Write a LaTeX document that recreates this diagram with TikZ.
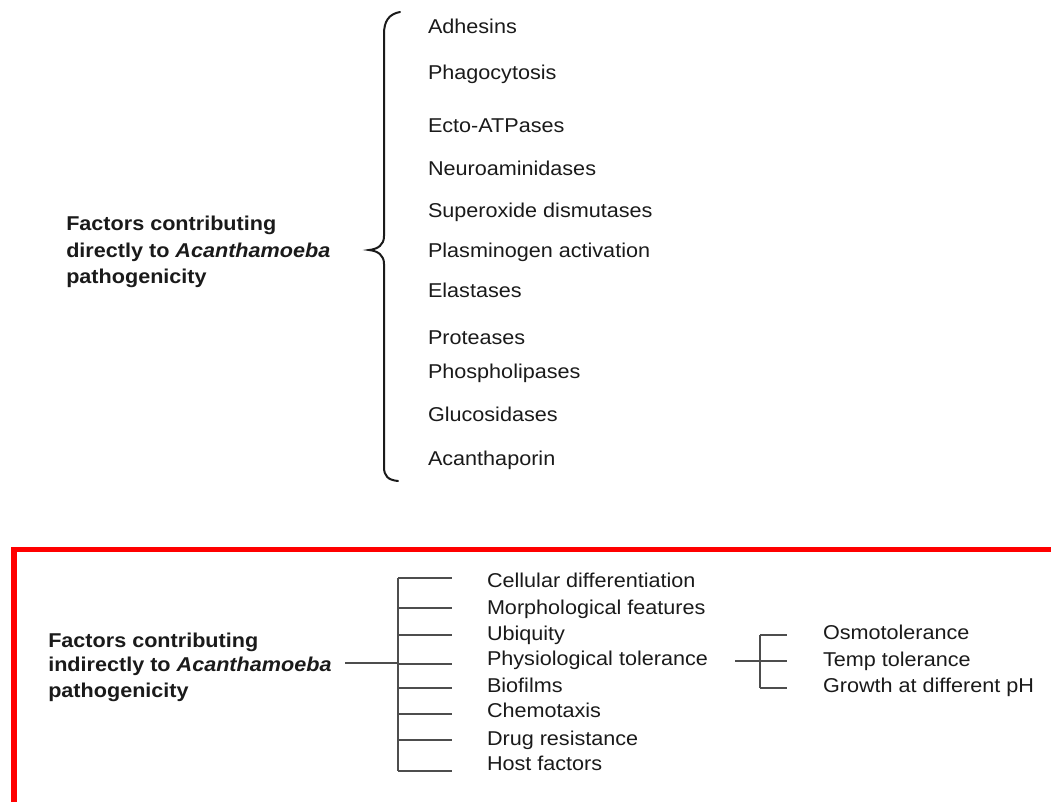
\documentclass[tikz,border=0pt]{standalone}
\usepackage{fontspec}
\setmainfont{Liberation Sans}[FakeStretch=1.08]
\definecolor{txt}{HTML}{1A1A1A}
\definecolor{ln}{HTML}{4D4D4D}
\definecolor{boxred}{HTML}{FF0000}
\begin{document}
\begin{tikzpicture}[x=0.75pt,y=-0.75pt,
  item/.style={anchor=base west,inner sep=0pt,outer sep=0pt,text=txt,font=\fontsize{15}{18}\selectfont},
  head/.style={anchor=base west,inner sep=0pt,outer sep=0pt,text=txt,font=\fontsize{15}{20}\selectfont\bfseries,align=left},
  conn/.style={draw=ln,line width=1.5pt},
  brace/.style={draw=txt,line width=1.5pt,line cap=round},
  frame/.style={draw=boxred,line width=4.2pt}]
\useasboundingbox (0,0) rectangle (1051,801);
\begin{scope}
\clip (0,0) rectangle (1051,801);
% ---------- top part ----------
\node[item] (adh) at (428,33) {Adhesins};
\node[item] (pha) at (428,79) {Phagocytosis};
\node[item] (ect) at (428,132) {Ecto-ATPases};
\node[item] (neu) at (428,175) {Neuroaminidases};
\node[item] (sup) at (428,217) {Superoxide dismutases};
\node[item] (pla) at (428,257) {Plasminogen activation};
\node[item] (ela) at (428,297) {Elastases};
\node[item] (pro) at (428,344) {Proteases};
\node[item] (pho) at (428,378) {Phospholipases};
\node[item] (glu) at (428,421) {Glucosidases};
\node[item] (aca) at (428,465) {Acanthaporin};
\node[anchor=base west,inner sep=0pt,text=txt,font=\fontsize{15}{18}\selectfont\bfseries] (d1) at (66,230) {Factors contributing};
\node[anchor=base west,inner sep=0pt,text=txt,font=\fontsize{15}{18}\selectfont\bfseries] (d2) at (66,257) {directly to \textit{Acanthamoeba}};
\node[anchor=base west,inner sep=0pt,text=txt,font=\fontsize{15}{18}\selectfont\bfseries] (d3) at (66,283) {pathogenicity};
\coordinate (bt) at (400,12);
\coordinate (bm) at (369,250);
\coordinate (bb) at (398,481);
\draw[brace] (bt) .. controls (389,14) and (384,21) .. (384,34) -- (384,236)
  .. controls (384,245) and (378,249) .. (bm)
  .. controls (378,251) and (384,255) .. (384,264) -- (384,467)
  .. controls (384,476) and (388,480) .. (bb);
% ---------- bottom part ----------
\draw[frame] (14,1000) -- (14,549.5) -- (1100,549.5);
\node[anchor=base west,inner sep=0pt,text=txt,font=\fontsize{15}{18}\selectfont\bfseries] (i1) at (48,647) {Factors contributing};
\node[anchor=base west,inner sep=0pt,text=txt,font=\fontsize{15}{18}\selectfont\bfseries] (i2) at (48,671) {indirectly to \textit{Acanthamoeba}};
\node[anchor=base west,inner sep=0pt,text=txt,font=\fontsize{15}{18}\selectfont\bfseries] (i3) at (48,697) {pathogenicity};
\node[item] (cel) at (487,587) {Cellular differentiation};
\node[item] (mor) at (487,614) {Morphological features};
\node[item] (ubi) at (487,640) {Ubiquity};
\node[item] (phy) at (487,665) {Physiological tolerance};
\node[item] (bio) at (487,692) {Biofilms};
\node[item] (che) at (487,717) {Chemotaxis};
\node[item] (dru) at (487,745) {Drug resistance};
\node[item] (hos) at (487,770) {Host factors};
\node[item] (osm) at (823,639) {Osmotolerance};
\node[item] (tem) at (823,666) {Temp tolerance};
\node[item] (gro) at (823,692) {Growth at different pH};
% main tree
\coordinate (lstart) at (345,663);
\coordinate (trunk) at (398,663);
\coordinate (tt) at (398,578);
\coordinate (tb) at (398,771);
\draw[conn] (lstart) -- (trunk);
\draw[conn] (tt) -- (tb);
\foreach \yy in {578,608,635,664,688,714,740,771}{
  \draw[conn] (398,\yy) -- (452,\yy);
}
% sub tree
\coordinate (sstart) at (735,661);
\coordinate (st) at (760,635);
\coordinate (sb) at (760,688);
\draw[conn] (sstart) -- (787,661);
\draw[conn] (st) -- (sb);
\draw[conn] (st) -- (787,635);
\draw[conn] (sb) -- (787,688);
\end{scope}
\end{tikzpicture}
\end{document}
